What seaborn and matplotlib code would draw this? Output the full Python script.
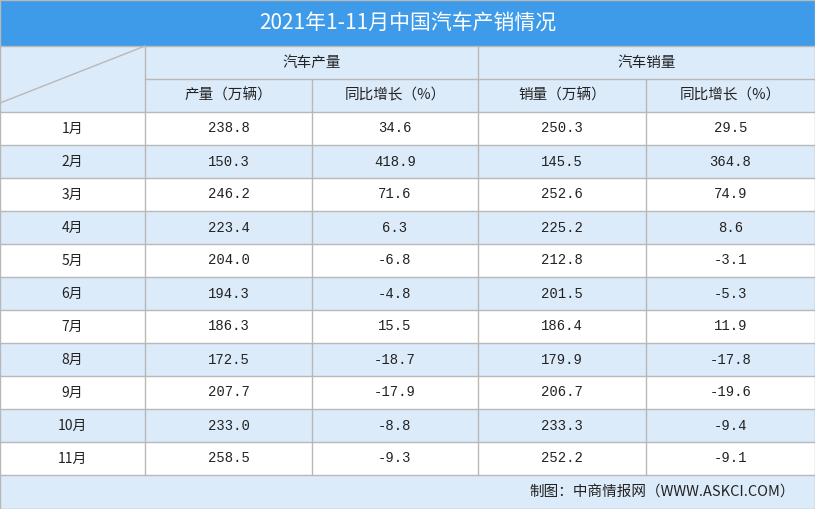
import matplotlib
matplotlib.use("Agg")
import matplotlib.pyplot as plt
import seaborn as sns
import numpy as np

sns.set_theme(style="white", font="Noto Sans CJK SC")

months = ["1月","2月","3月","4月","5月","6月","7月","8月","9月","10月","11月"]
prod = ["238.8","150.3","246.2","223.4","204.0","194.3","186.3","172.5","207.7","233.0","258.5"]
prod_yoy = ["34.6","418.9","71.6","6.3","-6.8","-4.8","15.5","-18.7","-17.9","-8.8","-9.3"]
sales = ["250.3","145.5","252.6","225.2","212.8","201.5","186.4","179.9","206.7","233.3","252.2"]
sales_yoy = ["29.5","364.8","74.9","8.6","-3.1","-5.3","11.9","-17.8","-19.6","-9.4","-9.1"]
title = "2021年1-11月中国汽车产销情况"
group_labels = ["汽车产量", "汽车销量"]
sub_labels = ["产量（万辆）", "同比增长（%）", "销量（万辆）", "同比增长（%）"]
footer = "制图：中商情报网（WWW.ASKCI.COM）"

W, H = 815, 509
col_edges = [0, 145, 312, 478, 646, 815]
title_h, hdr1, hdr2, row_h = 46, 79, 112, 33
blue = "#3d9be9"; light = "#dcebfa"; grid = "#b8b8b8"

fig = plt.figure(figsize=(8.15, 5.09), dpi=100)
ax = fig.add_axes([0, 0, 1, 1])
ax.set_xlim(0, W); ax.set_ylim(H, 0); ax.axis("off")

def rect(x0, y0, x1, y1, c):
    ax.fill_between([x0, x1], y0, y1, color=c, lw=0)

rect(0, 0, W, title_h, blue)
ax.text(W/2, title_h/2, title, color="white", fontsize=15, ha="center", va="center", family="Noto Serif CJK SC" if False else "Noto Sans CJK SC")
rect(0, title_h, W, hdr2, light)
n = len(months)
cols = [months, prod, prod_yoy, sales, sales_yoy]
for i in range(n):
    y0 = hdr2 + i*row_h
    rect(0, y0, W, y0+row_h, light if i % 2 == 1 else "white")
    for j, c in enumerate(cols):
        ax.text((col_edges[j]+col_edges[j+1])/2, y0+row_h/2, c[i], ha="center", va="center",
                fontsize=10, color="#222222", family="Noto Sans CJK SC" if j == 0 else "Liberation Mono")
foot_y = hdr2 + n*row_h
rect(0, foot_y, W, H, light)
ax.text(795, (foot_y+H)/2, footer, ha="right", va="center", fontsize=10.5, color="#222222")

# headers
ax.text((col_edges[1]+col_edges[3])/2, (title_h+hdr1)/2, group_labels[0], ha="center", va="center", fontsize=10.5, color="#222")
ax.text((col_edges[3]+col_edges[5])/2, (title_h+hdr1)/2, group_labels[1], ha="center", va="center", fontsize=10.5, color="#222")
for j, s in enumerate(sub_labels):
    ax.text((col_edges[j+1]+col_edges[j+2])/2, (hdr1+hdr2)/2, s, ha="center", va="center", fontsize=10.5, color="#222")

# grid lines
kw = dict(color=grid, lw=1)
ax.plot([0, W], [title_h, title_h], **kw)
ax.plot([col_edges[1], W], [hdr1, hdr1], **kw)
for k in range(n+1):
    y = hdr2 + k*row_h
    ax.plot([0, W], [y, y], **kw)
ax.plot([0, col_edges[1]], [103, title_h], **kw)
for j, x in enumerate(col_edges[1:-1], start=1):
    ytop = title_h if j in (1, 3) else hdr1
    ax.plot([x, x], [ytop, foot_y], **kw)
ax.plot([0, 0, W-0.5, W-0.5, 0], [0, H-0.5, H-0.5, 0, 0], color=grid, lw=1)

fig.savefig("out.png", dpi=100)
